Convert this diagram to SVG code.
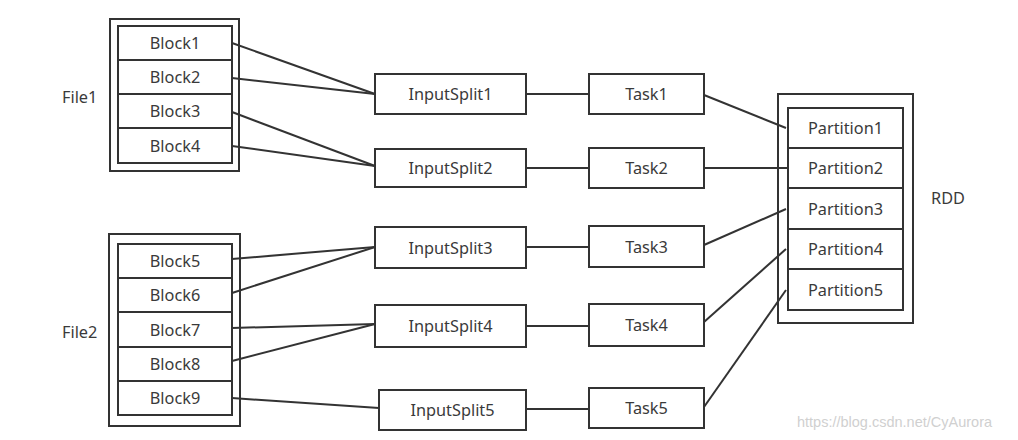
<svg xmlns="http://www.w3.org/2000/svg" width="1018" height="440" viewBox="0 0 1018 440">
<style>
.box{fill:#fff;stroke:#333;stroke-width:2}
.frame{fill:none;stroke:#333;stroke-width:2}
.t{font-family:"Noto Sans","Open Sans",sans-serif;font-size:16.3px;fill:#3a3a3a;text-anchor:middle;dominant-baseline:central}
.l{font-family:"Noto Sans","Open Sans",sans-serif;font-size:16.3px;fill:#3a3a3a;dominant-baseline:central}
.c line{stroke:#333;stroke-width:2}
.wm{font-family:"Liberation Sans",Arial,sans-serif;font-size:14.5px;fill:#d0d0d0}
</style>
<rect width="1018" height="440" fill="#fff"/>
<g id="file1">
<rect class="frame" x="110" y="19" width="129" height="152"/>
<text class="l" x="62" y="97">File1</text>
</g>
<g id="block1"><rect class="box" x="118" y="26" width="114" height="34"/><text class="t" x="175" y="43">Block1</text></g>
<g id="block2"><rect class="box" x="118" y="60" width="114" height="34"/><text class="t" x="175" y="77">Block2</text></g>
<g id="block3"><rect class="box" x="118" y="94" width="114" height="34"/><text class="t" x="175" y="111">Block3</text></g>
<g id="block4"><rect class="box" x="118" y="128" width="114" height="35"/><text class="t" x="175" y="145.5">Block4</text></g>
<g id="file2">
<rect class="frame" x="109" y="234" width="131" height="192"/>
<text class="l" x="62" y="332">File2</text>
</g>
<g id="block5"><rect class="box" x="118" y="244" width="114" height="34"/><text class="t" x="175" y="261">Block5</text></g>
<g id="block6"><rect class="box" x="118" y="278" width="114" height="34"/><text class="t" x="175" y="295">Block6</text></g>
<g id="block7"><rect class="box" x="118" y="312" width="114" height="35"/><text class="t" x="175" y="329.5">Block7</text></g>
<g id="block8"><rect class="box" x="118" y="347" width="114" height="34"/><text class="t" x="175" y="364">Block8</text></g>
<g id="block9"><rect class="box" x="118" y="381" width="114" height="34"/><text class="t" x="175" y="398">Block9</text></g>
<g id="inputsplit1"><rect class="box" x="375" y="74" width="151" height="40"/><text class="t" x="450.5" y="94">InputSplit1</text></g>
<g id="inputsplit2"><rect class="box" x="375" y="149" width="151" height="38"/><text class="t" x="450.5" y="168">InputSplit2</text></g>
<g id="inputsplit3"><rect class="box" x="375" y="227" width="151" height="41"/><text class="t" x="450.5" y="247.5">InputSplit3</text></g>
<g id="inputsplit4"><rect class="box" x="375" y="305" width="151" height="42"/><text class="t" x="450.5" y="326">InputSplit4</text></g>
<g id="inputsplit5"><rect class="box" x="379" y="390" width="147" height="40"/><text class="t" x="452.5" y="410">InputSplit5</text></g>
<g id="task1"><rect class="box" x="589" y="74" width="115" height="40"/><text class="t" x="646.5" y="94">Task1</text></g>
<g id="task2"><rect class="box" x="589" y="148" width="115" height="40"/><text class="t" x="646.5" y="168">Task2</text></g>
<g id="task3"><rect class="box" x="589" y="226" width="115" height="41"/><text class="t" x="646.5" y="246.5">Task3</text></g>
<g id="task4"><rect class="box" x="589" y="304" width="115" height="42"/><text class="t" x="646.5" y="325">Task4</text></g>
<g id="task5"><rect class="box" x="589" y="388" width="115" height="40"/><text class="t" x="646.5" y="408">Task5</text></g>
<g id="rdd">
<rect class="frame" x="778" y="94" width="135" height="229"/>
<text class="l" x="931" y="198">RDD</text>
</g>
<g id="partition1"><rect class="box" x="788" y="108" width="115" height="40"/><text class="t" x="845.5" y="128">Partition1</text></g>
<g id="partition2"><rect class="box" x="788" y="148" width="115" height="40"/><text class="t" x="845.5" y="168">Partition2</text></g>
<g id="partition3"><rect class="box" x="788" y="188" width="115" height="41"/><text class="t" x="845.5" y="208.5">Partition3</text></g>
<g id="partition4"><rect class="box" x="788" y="229" width="115" height="40"/><text class="t" x="845.5" y="249">Partition4</text></g>
<g id="partition5"><rect class="box" x="788" y="269" width="115" height="41"/><text class="t" x="845.5" y="289.5">Partition5</text></g>
<g id="connectors" class="c">
<line x1="232" y1="43" x2="375" y2="94"/>
<line x1="232" y1="78" x2="375" y2="94"/>
<line x1="232" y1="112" x2="375" y2="166"/>
<line x1="232" y1="146" x2="375" y2="166"/>
<line x1="232" y1="259" x2="375" y2="247"/>
<line x1="232" y1="293" x2="375" y2="247"/>
<line x1="232" y1="328" x2="375" y2="324"/>
<line x1="232" y1="361" x2="375" y2="324"/>
<line x1="232" y1="398" x2="379" y2="408"/>
<line x1="526" y1="94" x2="589" y2="94"/>
<line x1="526" y1="168" x2="589" y2="168"/>
<line x1="526" y1="247" x2="589" y2="247"/>
<line x1="526" y1="326" x2="589" y2="326"/>
<line x1="526" y1="409" x2="589" y2="409"/>
<line x1="704" y1="95" x2="786" y2="128"/>
<line x1="704" y1="168" x2="788" y2="168"/>
<line x1="704" y1="245" x2="786" y2="209"/>
<line x1="704" y1="322" x2="786" y2="249"/>
<line x1="704" y1="407" x2="786" y2="290"/>
</g>
<text class="wm" x="797" y="427">https://blog.csdn.net/CyAurora</text>
</svg>
